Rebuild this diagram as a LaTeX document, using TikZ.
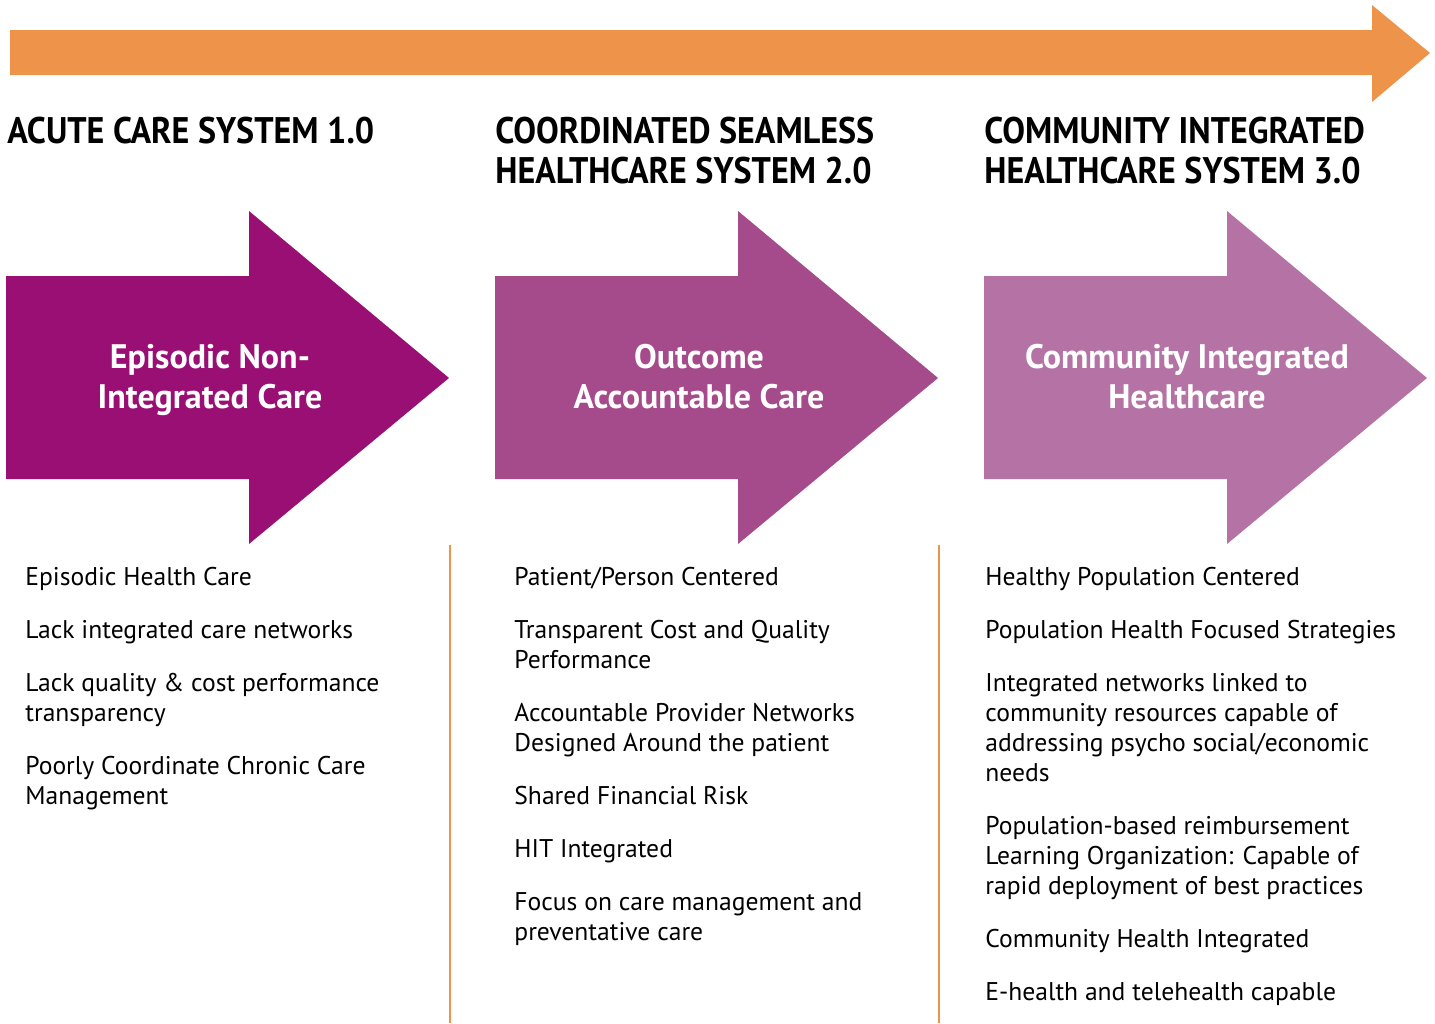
\documentclass[tikz,border=0pt]{standalone}
\usepackage{fontspec}
\setmainfont{PT Sans}
\newfontfamily\headfont{PT Sans}[FakeStretch=0.92]
\usetikzlibrary{positioning}
\definecolor{timeorange}{HTML}{EE944A}
\definecolor{acutepurple}{HTML}{990F74}
\definecolor{coordpurple}{HTML}{A54A8A}
\definecolor{commpurple}{HTML}{B573A5}

\begin{document}
\begin{tikzpicture}[x=0.5pt, y=-0.5pt,
  heading/.style={anchor=north west, inner sep=0pt, align=left,
                  font=\headfont\bfseries\fontsize{18.5}{20}\selectfont},
  arrowtext/.style={text=white, align=center, inner sep=0pt,
                    font=\bfseries\fontsize{17}{20}\selectfont},
  itemlist/.style={anchor=north west, inner sep=0pt, align=left,
                   font=\fontsize{12.8}{15}\selectfont},
  divider/.style={draw=timeorange, line width=1pt}]
\useasboundingbox (0,0) rectangle (1435,1023);
% timeline
\fill[timeorange] (10,30) -- (1372,30) -- (1372,5) -- (1430,53)
  -- (1372,102) -- (1372,75) -- (10,75) -- cycle;
% stage arrows
\foreach \x/\col in {6/acutepurple, 495/coordpurple, 984/commpurple}
  \fill[\col] (\x,276) -- ++(243,0) -- ++(0,-65) -- ++(200,167)
    -- ++(-200,166) -- ++(0,-65) -- ++(-243,0) -- cycle;
\node[arrowtext] (acutelabel) at (210,380) {Episodic Non-\\Integrated Care};
\node[arrowtext] (coordlabel) at (699,377) {Outcome\\Accountable Care};
\node[arrowtext] (commlabel) at (1187,377) {Community Integrated\\Healthcare};
% headings
\node[heading] (acutehead) at (7,117) {ACUTE CARE SYSTEM 1.0};
\node[heading] (coordhead) at (495,117) {COORDINATED SEAMLESS\\HEALTHCARE SYSTEM 2.0};
\node[heading] (commhead) at (984,117) {COMMUNITY INTEGRATED\\HEALTHCARE SYSTEM 3.0};
% dividers
\draw[divider] (450,545) -- (450,1023);
\draw[divider] (939,545) -- (939,1023);
% lists
\node[itemlist] (acutelist) at (25,567) {Episodic Health Care\\[11.5pt]
  Lack integrated care networks\\[11.5pt]
  Lack quality \& cost performance\\transparency\\[11.5pt]
  Poorly Coordinate Chronic Care\\Management};
\node[itemlist] (coordlist) at (514,567) {Patient/Person Centered\\[11.5pt]
  Transparent Cost and Quality\\Performance\\[11.5pt]
  Accountable Provider Networks\\Designed Around the patient\\[11.5pt]
  Shared Financial Risk\\[11.5pt]
  HIT Integrated\\[11.5pt]
  Focus on care management and\\preventative care};
\node[itemlist] (commlist) at (985,567) {Healthy Population Centered\\[11.5pt]
  Population Health Focused Strategies\\[11.5pt]
  Integrated networks linked to\\community resources capable of\\
  addressing psycho social/economic\\needs\\[11.5pt]
  Population-based reimbursement\\Learning Organization: Capable of\\
  rapid deployment of best practices\\[11.5pt]
  Community Health Integrated\\[11.5pt]
  E-health and telehealth capable};
\end{tikzpicture}
\end{document}
